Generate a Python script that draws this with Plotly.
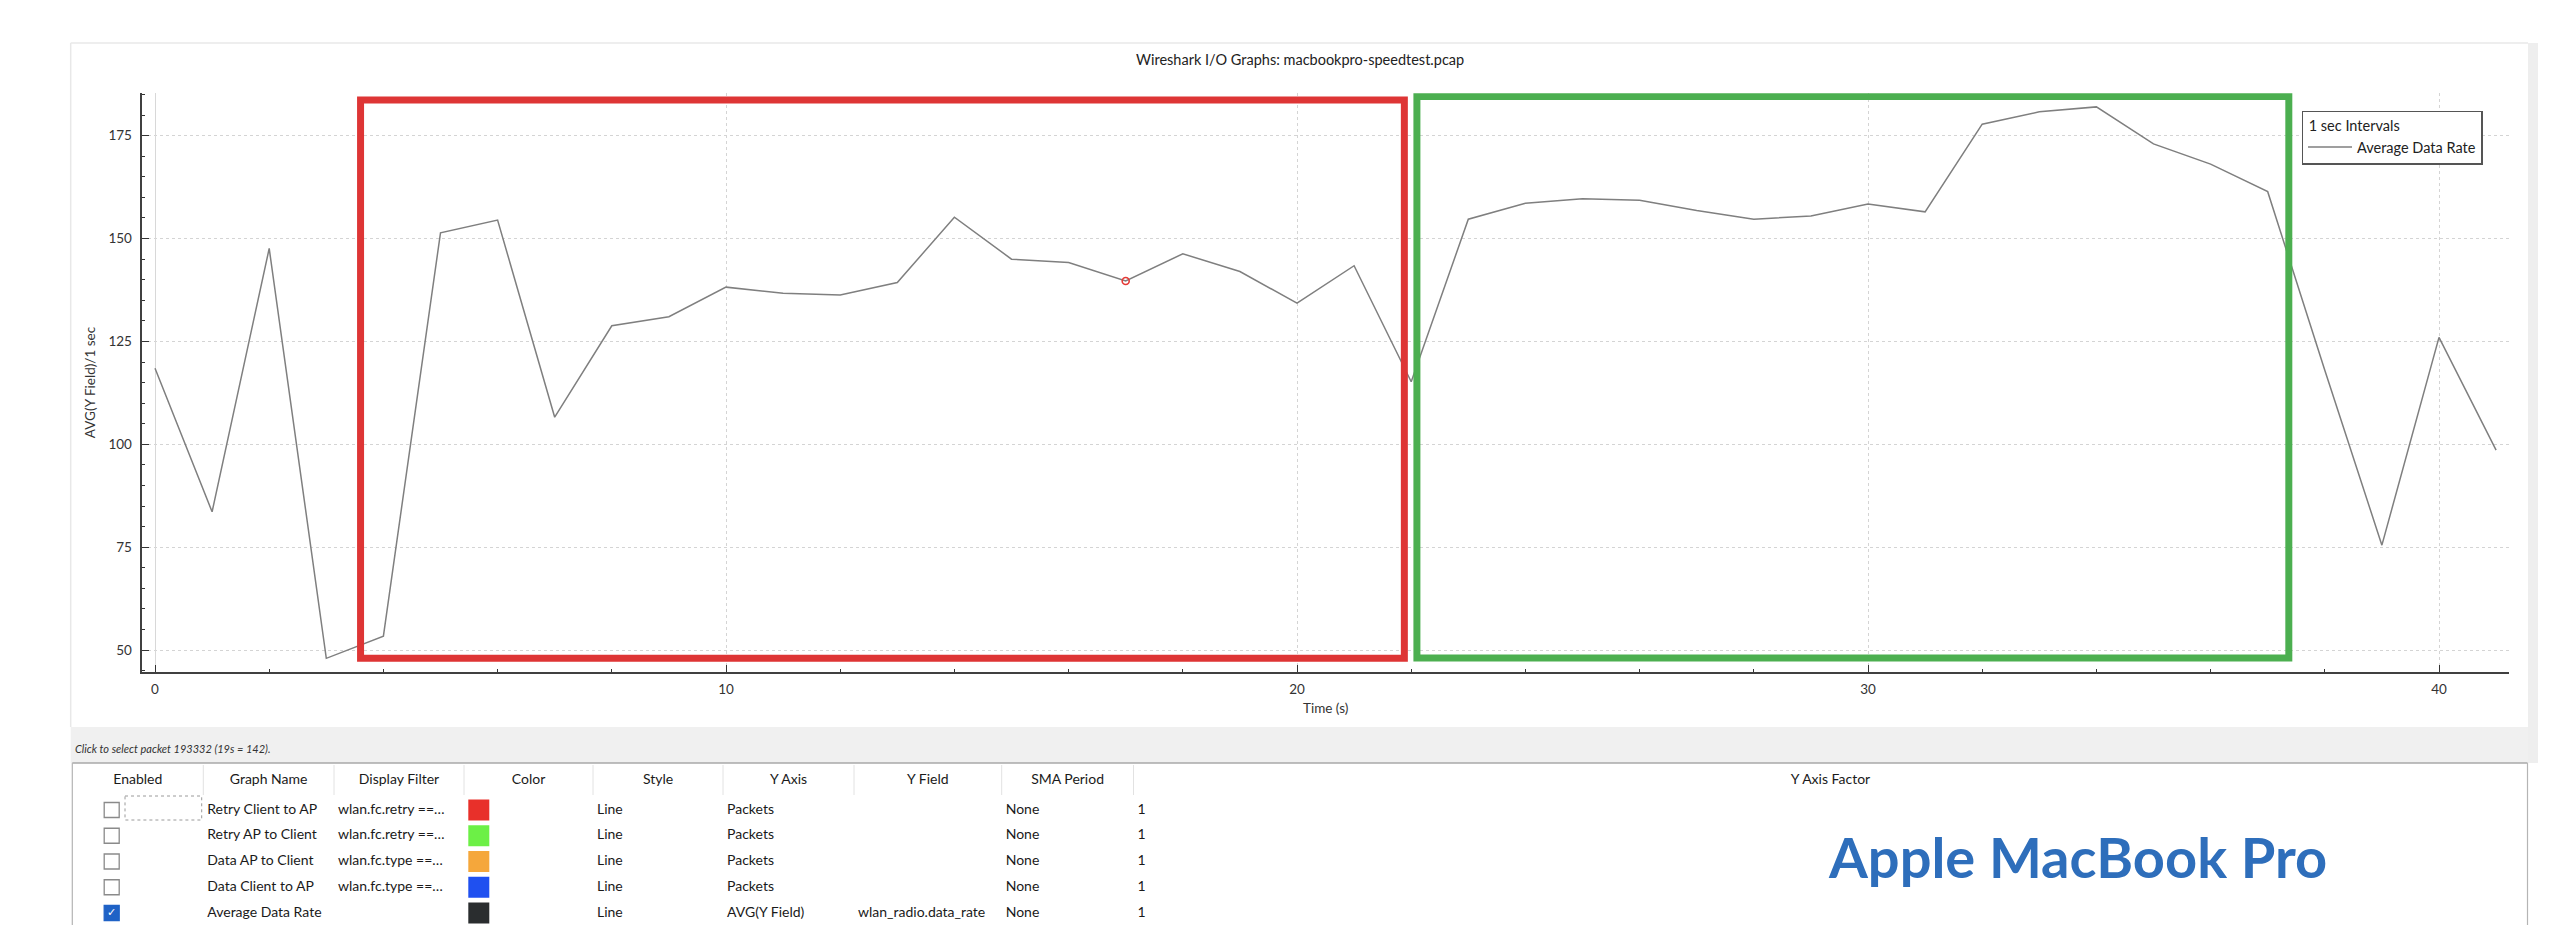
import plotly.graph_objects as go

# ------------------------------------------------------------------ data
time_s = list(range(42))
avg_data_rate = [118.5, 83.6, 147.6, 48.0, 53.4, 151.4, 154.5, 106.6, 128.8, 131.0,
                 138.2, 136.7, 136.3, 139.3, 155.2, 145.0, 144.2, 139.7, 146.3, 142.0,
                 134.3, 143.4, 115.2, 154.7, 158.6, 159.7, 159.3, 156.8, 154.7, 155.5,
                 158.4, 156.5, 177.8, 180.8, 182.0, 173.0, 168.1, 161.4, 118.0, 75.5,
                 126.0, 98.6]
selected_time = [17]
selected_value = [139.7]

# highlighted regions: (time range, value range)
red_region_t = [3.6, 21.88]
red_region_v = [48.0, 183.7]
green_region_t = [22.1, 37.37]
green_region_v = [48.1, 184.5]

x_tick_step = 10
y_tick_step = 25

# graph table
headers = ["Enabled", "Graph Name", "Display Filter", "Color", "Style",
           "Y Axis", "Y Field", "SMA Period", "Y Axis Factor"]
enabled = [False, False, False, False, True]
graph_names = ["Retry Client to AP", "Retry AP to Client", "Data AP to Client",
               "Data Client to AP", "Average Data Rate"]
display_filters = ["wlan.fc.retry ==…", "wlan.fc.retry ==…", "wlan.fc.type ==…",
                   "wlan.fc.type ==…", ""]
graph_colors = ["#E8302A", "#6CF046", "#F5A73B", "#1F50F0", "#2A2D2F"]
styles = ["Line", "Line", "Line", "Line", "Line"]
y_axes = ["Packets", "Packets", "Packets", "Packets", "AVG(Y Field)"]
y_fields = ["", "", "", "", "wlan_radio.data_rate"]
sma_periods = ["None", "None", "None", "None", "None"]
y_axis_factors = ["1", "1", "1", "1", "1"]

# ------------------------------------------------------------------ layout constants
W, H = 2560, 946
FONT = "Lato, 'Open Sans', sans-serif"


def fx(px):
    return px / W


def fy(py):
    return 1 - py / H


PLOT_L, PLOT_R, PLOT_T, PLOT_B = 142.4, 2509, 93.3, 671.7
X_RANGE = [-0.2207, 41.226]
Y_RANGE = [44.75, 185.3]

COL_EDGES = [72.3, 203.3, 334, 464, 593, 723, 854, 1001.7, 1133.5, 2527.5]
ROW0_PX, ROW_H = 810, 25.75
TABLE_TOP, TABLE_BOTTOM = 763, 925
PANEL_L, PANEL_T, PANEL_R, PANEL_B = 70.7, 43, 2528, 727
BAND_B, STRIP_R = 763, 2538


def row_of(py):
    return (py - ROW0_PX) / ROW_H


rows = list(range(len(graph_names)))

fig = go.Figure()

# ------------------------------------------------------------------ main chart
fig.add_trace(go.Scatter(
    x=time_s, y=avg_data_rate, mode="lines", name="Average Data Rate",
    line=dict(color="#7f7f7f", width=1.5), showlegend=True,
    xaxis="x", yaxis="y"))
fig.add_trace(go.Scatter(
    x=selected_time, y=selected_value, mode="markers", showlegend=False,
    marker=dict(symbol="circle-open", size=7, color="#E53935",
                line=dict(width=1.6, color="#E53935")),
    xaxis="x", yaxis="y"))

# ------------------------------------------------------------------ table (on x2/y2)
col_left = [e + 4 for e in COL_EDGES[:-1]]
col_center = [(COL_EDGES[i] + COL_EDGES[i + 1]) / 2 for i in range(len(COL_EDGES) - 1)]
txt_font = dict(family=FONT, size=14, color="#1a1a1a")

fig.add_trace(go.Scatter(
    x=col_center, y=[row_of(780)] * len(headers), text=headers, mode="text",
    textposition="middle center", textfont=txt_font, showlegend=False,
    hoverinfo="skip", xaxis="x2", yaxis="y2"))

# checkboxes
fig.add_trace(go.Scatter(
    x=[111.7] * len(rows), y=rows, mode="markers", showlegend=False, hoverinfo="skip",
    marker=dict(symbol="square", size=15,
                color=["#1F62C6" if e else "#FFFFFF" for e in enabled],
                line=dict(width=1.3, color=["#1F62C6" if e else "#8A8A8A" for e in enabled])),
    xaxis="x2", yaxis="y2"))
fig.add_trace(go.Scatter(
    x=[111.7 for e in enabled if e], y=[r for r, e in zip(rows, enabled) if e],
    text=["✓" for e in enabled if e], mode="text", textposition="middle center",
    textfont=dict(family="DejaVu Sans", size=11, color="#FFFFFF"),
    showlegend=False, hoverinfo="skip", xaxis="x2", yaxis="y2"))

# color swatches
fig.add_trace(go.Scatter(
    x=[COL_EDGES[3] + 14.8] * len(rows), y=rows, mode="markers", showlegend=False,
    hoverinfo="skip",
    marker=dict(symbol="square", size=21, color=graph_colors, line=dict(width=0)),
    xaxis="x2", yaxis="y2"))

text_columns = [(1, graph_names), (2, display_filters), (4, styles), (5, y_axes),
                (6, y_fields), (7, sma_periods), (8, y_axis_factors)]
for ci, values in text_columns:
    fig.add_trace(go.Scatter(
        x=[col_left[ci]] * len(values), y=rows, text=values, mode="text",
        textposition="middle right", textfont=txt_font, showlegend=False,
        hoverinfo="skip", xaxis="x2", yaxis="y2"))

# ------------------------------------------------------------------ shapes
shapes = []
# chart panel and surrounding chrome
shapes.append(dict(type="rect", xref="x2", yref="paper", x0=PANEL_L, x1=STRIP_R,
                   y0=fy(BAND_B), y1=fy(PANEL_B), fillcolor="#F0F0F0", line_width=0,
                   layer="below"))
shapes.append(dict(type="rect", xref="x2", yref="paper", x0=PANEL_R, x1=STRIP_R,
                   y0=fy(BAND_B), y1=fy(PANEL_T), fillcolor="#EEEEEE", line_width=0,
                   layer="below"))
shapes.append(dict(type="line", xref="x2", yref="paper", x0=PANEL_L, x1=PANEL_R,
                   y0=fy(PANEL_T), y1=fy(PANEL_T), line=dict(color="#E8E8E8", width=1.5),
                   layer="below"))
shapes.append(dict(type="line", xref="x2", yref="paper", x0=PANEL_L, x1=PANEL_L,
                   y0=fy(PANEL_T), y1=fy(PANEL_B), line=dict(color="#E8E8E8", width=1.5),
                   layer="below"))
# table frame
shapes.append(dict(type="line", xref="x2", yref="paper", x0=COL_EDGES[0], x1=COL_EDGES[-1],
                   y0=fy(TABLE_TOP), y1=fy(TABLE_TOP), line=dict(color="#A8A8A8", width=1.5)))
for xe in (COL_EDGES[0], COL_EDGES[-1]):
    shapes.append(dict(type="line", xref="x2", yref="paper", x0=xe, x1=xe,
                       y0=fy(TABLE_TOP), y1=fy(TABLE_BOTTOM),
                       line=dict(color="#B4B4B4", width=1.2)))
for xe in COL_EDGES[1:-1]:
    shapes.append(dict(type="line", xref="x2", yref="y2", x0=xe, x1=xe,
                       y0=row_of(765), y1=row_of(795), line=dict(color="#E2E2E2", width=1)))
# edit box of the first row
shapes.append(dict(type="rect", xref="x2", yref="y2", x0=125, x1=201.7,
                   y0=row_of(796), y1=row_of(820),
                   line=dict(color="#9A9A9A", width=1, dash="dot"), fillcolor="#FFFFFF"))
# highlighted regions
shapes.append(dict(type="rect", xref="x", yref="y", x0=red_region_t[0], x1=red_region_t[1],
                   y0=red_region_v[0], y1=red_region_v[1],
                   line=dict(color="#DE3535", width=7)))
shapes.append(dict(type="rect", xref="x", yref="y", x0=green_region_t[0], x1=green_region_t[1],
                   y0=green_region_v[0], y1=green_region_v[1],
                   line=dict(color="#4CAF50", width=7)))

# ------------------------------------------------------------------ annotations
annotations = [
    dict(text="Wireshark I/O Graphs: macbookpro-speedtest.pcap", xref="paper", yref="paper",
         x=fx(1299.5), y=fy(59.3), xanchor="center", yanchor="middle", showarrow=False,
         font=dict(family=FONT, size=14.5, color="#222222")),
    dict(text="<i>Click to select packet 193332 (19s = 142).</i>", xref="paper", yref="paper",
         x=fx(72.7), y=fy(748), xanchor="left", yanchor="middle", showarrow=False,
         font=dict(family=FONT, size=11, color="#333333")),
    dict(text="<b>Apple MacBook Pro</b>", xref="paper", yref="paper",
         x=fx(2077), y=fy(856), xanchor="center", yanchor="middle", showarrow=False,
         font=dict(family=FONT, size=56, color="#2E6EBB")),
]

axis_font = dict(family=FONT, size=13.5, color="#333333")

fig.update_layout(
    width=W, height=H,
    margin=dict(l=0, r=0, t=0, b=0),
    paper_bgcolor="#FFFFFF", plot_bgcolor="rgba(0,0,0,0)",
    font=dict(family=FONT, size=14, color="#222222"),
    xaxis=dict(
        domain=[fx(PLOT_L), fx(PLOT_R)], range=X_RANGE, tick0=0, dtick=x_tick_step,
        ticks="inside", ticklen=7, tickwidth=1.2, tickcolor="#333333",
        showline=True, linecolor="#404040", linewidth=1.6,
        showgrid=True, gridcolor="#D4D4D4", griddash="dot", gridwidth=1,
        zeroline=True, zerolinecolor="#D8D8D8", zerolinewidth=1,
        minor=dict(dtick=2, tick0=0, ticks="inside", ticklen=3, tickcolor="#333333",
                   showgrid=False),
        tickfont=axis_font, ticklabelstandoff=4,
        title=dict(text="Time (s)", font=axis_font, standoff=8),
        anchor="y", fixedrange=True),
    yaxis=dict(
        domain=[fy(PLOT_B), fy(PLOT_T)], range=Y_RANGE, tick0=0, dtick=y_tick_step,
        ticks="inside", ticklen=7, tickwidth=1.2, tickcolor="#333333",
        showline=True, linecolor="#404040", linewidth=1.6,
        showgrid=True, gridcolor="#D4D4D4", griddash="dot", gridwidth=1,
        zeroline=False,
        minor=dict(dtick=5, tick0=0, ticks="inside", ticklen=3, tickcolor="#333333",
                   showgrid=False),
        tickfont=axis_font, ticklabelstandoff=6,
        title=dict(text="AVG(Y Field)/1 sec", font=axis_font, standoff=10),
        anchor="x", fixedrange=True),
    xaxis2=dict(domain=[0, 1], range=[0, W], visible=False, fixedrange=True, anchor="y2"),
    yaxis2=dict(domain=[fy(TABLE_BOTTOM), fy(TABLE_TOP)],
                range=[row_of(TABLE_BOTTOM), row_of(TABLE_TOP)],
                visible=False, fixedrange=True, anchor="x2"),
    legend=dict(
        x=fx(2301.5), y=fy(110.7), xanchor="left", yanchor="top",
        bgcolor="#FFFFFF", bordercolor="#555555", borderwidth=1.5,
        font=dict(family=FONT, size=14.5, color="#222222"),
        title=dict(text=" 1 sec Intervals", font=dict(family=FONT, size=14.5, color="#222222")),
        itemwidth=44, entrywidth=142, entrywidthmode="pixels", tracegroupgap=4),
    shapes=shapes,
    annotations=annotations,
    hovermode=False,
)

fig.write_html("out.html", config={"displayModeBar": False},
               post_script="document.body.style.margin='0';")
